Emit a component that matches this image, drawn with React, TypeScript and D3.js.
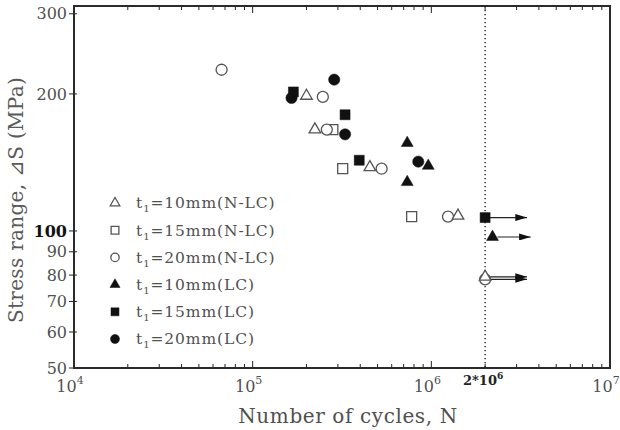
import * as d3 from "d3"
import { useEffect, useRef } from "react"

// fatigue test results: [cycles N, stress range (MPa)]
const tri10NLC: [number, number][] = [[2.0e5, 198], [2.23e5, 167], [4.53e5, 138], [1.41e6, 108], [2e6, 79.3]]
const sq15NLC: [number, number][] = [[2.81e5, 167], [3.19e5, 137], [7.76e5, 107.5]]
const circ20NLC: [number, number][] = [[6.7e4, 226], [2.47e5, 197], [2.6e5, 167], [5.27e5, 137], [1.24e6, 107.5], [2e6, 78.3]]
const tri10LC: [number, number][] = [[7.33e5, 156], [9.61e5, 139], [7.33e5, 128], [2.2e6, 97]]
const sq15LC: [number, number][] = [[1.69e5, 202], [3.29e5, 180], [3.95e5, 143], [2e6, 107]]
const circ20LC: [number, number][] = [[2.86e5, 215], [1.65e5, 196], [3.29e5, 163], [8.45e5, 142]]

// run-outs: start point and where the arrow ends
const runouts = [
  { n: 2e6, s: 107, end: 3.43e6 },
  { n: 2.2e6, s: 97, end: 3.6e6 },
  { n: 2e6, s: 79.3, end: 3.43e6 },
  { n: 2e6, s: 78.3, end: 3.43e6 },
]

const xMajor = [1e4, 1e5, 1e6, 1e7]
const yTicks = [50, 60, 70, 80, 90, 100, 200, 300]
const runoutLimit = 2e6

const legendLabels = [
  { t: "10mm", tag: "(N-LC)" },
  { t: "15mm", tag: "(N-LC)" },
  { t: "20mm", tag: "(N-LC)" },
  { t: "10mm", tag: "(LC)" },
  { t: "15mm", tag: "(LC)" },
  { t: "20mm", tag: "(LC)" },
]

const FONT = "'DejaVu Serif', serif"
const GREY = "#505050"

const App = () => {
  const svgRef = useRef<SVGSVGElement | null>(null)

  useEffect(() => {
    if (!svgRef.current) return
    const root = d3.select(svgRef.current)
    root.selectAll("*").remove()

    const left = 74
    const right = 610
    const top = 6
    const bottom = 368

    const x = d3.scaleLog().domain([1e4, 1e7]).range([left, right])
    const y = d3.scaleLog().domain([50, 312]).range([bottom, top])

    const svg = root.append("g")

    // minor ticks on bottom/top
    const minor: number[] = []
    for (let e = 4; e < 7; e++) for (let k = 2; k <= 9; k++) minor.push(k * 10 ** e)

    const ticks = svg.append("g").attr("stroke", "#222").attr("stroke-width", 1)
    minor.forEach(v => {
      ticks.append("line").attr("x1", x(v)).attr("x2", x(v)).attr("y1", bottom).attr("y2", bottom - 4)
      ticks.append("line").attr("x1", x(v)).attr("x2", x(v)).attr("y1", top).attr("y2", top + 4)
    })
    xMajor.forEach(v => {
      ticks.append("line").attr("x1", x(v)).attr("x2", x(v)).attr("y1", bottom).attr("y2", bottom - 7)
      ticks.append("line").attr("x1", x(v)).attr("x2", x(v)).attr("y1", top).attr("y2", top + 7)
    })
    yTicks.forEach(v => {
      ticks.append("line").attr("x1", left - 5).attr("x2", left + 3).attr("y1", y(v)).attr("y2", y(v))
    })

    // frame
    svg
      .append("rect")
      .attr("x", left)
      .attr("y", top)
      .attr("width", right - left)
      .attr("height", bottom - top)
      .attr("fill", "none")
      .attr("stroke", "#2a2a2a")
      .attr("stroke-width", 2)

    // run-out limit
    svg
      .append("line")
      .attr("x1", x(runoutLimit))
      .attr("x2", x(runoutLimit))
      .attr("y1", top)
      .attr("y2", bottom)
      .attr("stroke", "#111")
      .attr("stroke-width", 1.3)
      .attr("stroke-dasharray", "1.3,2.7")

    // y tick labels
    yTicks.forEach(v => {
      svg
        .append("text")
        .attr("x", left - 7)
        .attr("y", y(v))
        .attr("dy", "0.35em")
        .attr("text-anchor", "end")
        .style("font-family", FONT)
        .style("font-size", "16px")
        .style("font-weight", v === 100 ? "bold" : "normal")
        .attr("fill", v === 100 ? "#111" : GREY)
        .text(v)
    })

    // x tick labels 10^n
    xMajor.forEach(v => {
      const t = svg
        .append("text")
        .attr("x", x(v) - 4)
        .attr("y", 392)
        .attr("text-anchor", "middle")
        .style("font-family", FONT)
        .style("font-size", "16px")
        .attr("fill", GREY)
      t.append("tspan").text("10")
      t.append("tspan").attr("dy", -8).style("font-size", "11px").text(Math.round(Math.log10(v)))
    })
    const lim = svg
      .append("text")
      .attr("x", x(runoutLimit) - 2)
      .attr("y", 385)
      .attr("text-anchor", "middle")
      .style("font-family", FONT)
      .style("font-size", "13px")
      .style("font-weight", "bold")
      .attr("fill", "#222")
    lim.append("tspan").text("2*10")
    lim.append("tspan").attr("dy", -6).style("font-size", "9px").text("6")

    // axis titles
    svg
      .append("text")
      .attr("x", 348)
      .attr("y", 423)
      .attr("text-anchor", "middle")
      .style("font-family", FONT)
      .style("font-size", "20px")
      .style("letter-spacing", "0.6px")
      .attr("fill", GREY)
      .text("Number of cycles, N")

    svg
      .append("text")
      .attr("transform", "translate(23,200) rotate(-90)")
      .attr("text-anchor", "middle")
      .style("font-family", FONT)
      .style("font-size", "20px")
      .style("letter-spacing", "0.3px")
      .attr("fill", "#5a5a5a")
      .text("Stress range, ⊿S (MPa)")

    // arrow head marker
    svg
      .append("defs")
      .append("marker")
      .attr("id", "arrow-head")
      .attr("viewBox", "0 0 10 6")
      .attr("refX", 10)
      .attr("refY", 3)
      .attr("markerUnits", "userSpaceOnUse")
      .attr("markerWidth", 12)
      .attr("markerHeight", 7)
      .attr("orient", "auto")
      .append("path")
      .attr("d", "M0,0L10,3L0,6Z")
      .attr("fill", "#111")

    runouts.forEach(r => {
      svg
        .append("line")
        .attr("x1", x(r.n) + 5)
        .attr("x2", x(r.end))
        .attr("y1", y(r.s))
        .attr("y2", y(r.s))
        .attr("stroke", "#222")
        .attr("stroke-width", 1.2)
        .attr("marker-end", "url(#arrow-head)")
    })

    const sym = (type: d3.SymbolType, size: number) => d3.symbol().type(type).size(size)()!

    const series = [
      { data: sq15NLC, type: d3.symbolSquare, size: 100, filled: false },
      { data: circ20NLC, type: d3.symbolCircle, size: 95, filled: false },
      { data: tri10NLC, type: d3.symbolTriangle, size: 58, filled: false },
      { data: circ20LC, type: d3.symbolCircle, size: 100, filled: true },
      { data: sq15LC, type: d3.symbolSquare, size: 100, filled: true },
      { data: tri10LC, type: d3.symbolTriangle, size: 62, filled: true },
    ]

    series.forEach(s => {
      svg
        .append("g")
        .selectAll("path")
        .data(s.data)
        .enter()
        .append("path")
        .attr("transform", d => `translate(${x(d[0])},${y(d[1])})`)
        .attr("d", sym(s.type, s.size))
        .attr("fill", s.filled ? "#111" : "#fff")
        .attr("stroke", s.filled ? "#111" : "#555")
        .attr("stroke-width", s.filled ? 0.5 : 1.3)
    })

    // legend
    const legendTypes = [
      { type: d3.symbolTriangle, size: 40, filled: false },
      { type: d3.symbolSquare, size: 60, filled: false },
      { type: d3.symbolCircle, size: 55, filled: false },
      { type: d3.symbolTriangle, size: 44, filled: true },
      { type: d3.symbolSquare, size: 64, filled: true },
      { type: d3.symbolCircle, size: 64, filled: true },
    ]
    const legend = svg.append("g")
    legendLabels.forEach((l, i) => {
      const ly = 203 + i * 27.2
      const m = legendTypes[i]
      legend
        .append("path")
        .attr("transform", `translate(115,${ly})`)
        .attr("d", sym(m.type, m.size))
        .attr("fill", m.filled ? "#111" : "#fff")
        .attr("stroke", m.filled ? "#111" : "#555")
        .attr("stroke-width", m.filled ? 0.5 : 1.3)
      const t = legend
        .append("text")
        .attr("x", 136)
        .attr("y", ly)
        .attr("dy", "0.35em")
        .style("font-family", FONT)
        .style("font-size", "15.5px")
        .style("letter-spacing", "0.9px")
        .attr("fill", GREY)
      t.append("tspan").text("t")
      t.append("tspan").attr("dy", 4).style("font-size", "10px").text("1")
      t.append("tspan").attr("dy", -4).text(`=${l.t}${l.tag}`)
    })
  }, [])

  return (
    <svg
      ref={svgRef}
      width={620}
      height={430}
      style={{ position: "absolute", left: 0, top: 0, background: "#fff" }}
    />
  )
}

export default App
